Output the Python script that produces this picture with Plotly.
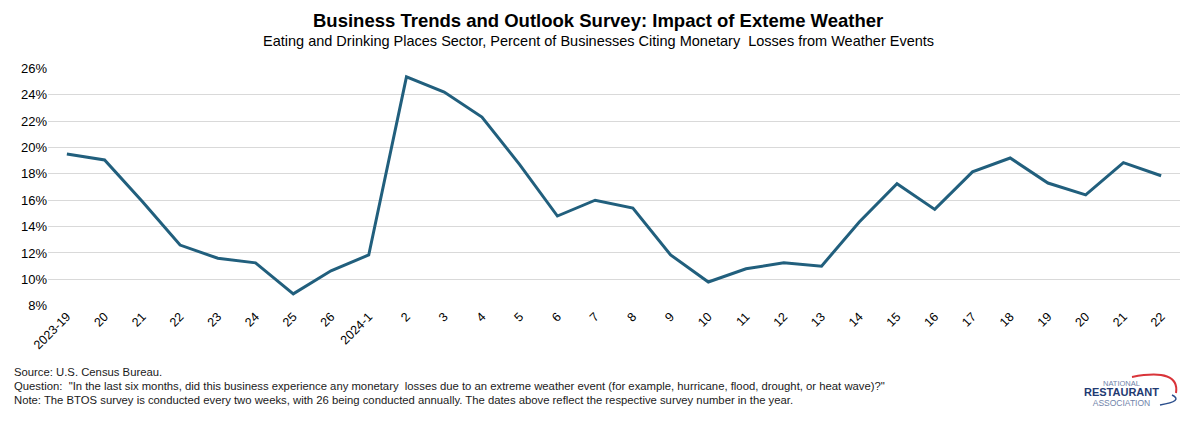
import plotly.graph_objects as go

categories = ["2023-19", "20", "21", "22", "23", "24", "25", "26",
              "2024-1", "2", "3", "4", "5", "6", "7", "8", "9", "10",
              "11", "12", "13", "14", "15", "16", "17", "18", "19", "20", "21", "22"]
values = [19.5, 19.05, 15.9, 12.6, 11.6, 11.25, 8.9, 10.65,
          11.85, 25.35, 24.2, 22.3, 18.7, 14.8, 16.0, 15.4, 11.85, 9.8,
          10.8, 11.25, 11.0, 14.35, 17.25, 15.3, 18.15, 19.2, 17.3, 16.4, 18.85, 17.85]
y_ticks = [8, 10, 12, 14, 16, 18, 20, 22, 24, 26]

title = "<b>Business Trends and Outlook Survey: Impact of Exteme Weather</b>"
subtitle = "Eating and Drinking Places Sector, Percent of Businesses Citing Monetary  Losses from Weather Events"
footer = [
    "Source: U.S. Census Bureau.",
    "Question:  \"In the last six months, did this business experience any monetary  losses due to an extreme weather event (for example, hurricane, flood, drought, or heat wave)?\"",
    "Note: The BTOS survey is conducted every two weeks, with 26 being conducted annually. The dates above reflect the respective survey number in the year.",
]

x_idx = list(range(len(categories)))

# page offset from default body margin
OFF = 8
W, H = 1196 - OFF, 421 - OFF
L, R, T, B = 48 - OFF, 16, 68 - OFF, H - (306 - OFF)

fig = go.Figure()
fig.add_trace(go.Scatter(
    x=x_idx, y=values, mode="lines",
    line=dict(color="#215F7D", width=3),
    hoverinfo="skip", showlegend=False,
))

fig.update_layout(
    width=W, height=H,
    margin=dict(l=L, r=R, t=T, b=B, autoexpand=False),
    paper_bgcolor="white", plot_bgcolor="white",
    font=dict(family="Liberation Sans, Arial, sans-serif", color="#000000", size=12),
    xaxis=dict(
        tickmode="array", tickvals=x_idx, ticktext=categories,
        tickangle=-45, range=[-0.5, len(categories) - 0.5],
        showgrid=False, zeroline=False, showline=False,
        tickfont=dict(size=12.5, color="#000000"), ticks="", automargin=False,
    ),
    yaxis=dict(
        tickmode="array", tickvals=y_ticks, ticktext=[f"{v}%" for v in y_ticks],
        range=[7.98, 26.02], showgrid=True, gridcolor="#D9D9D9", gridwidth=1,
        zeroline=False, showline=False, ticks="", automargin=False,
        tickfont=dict(size=13, color="#000000"),
    ),
)

plot_h = H - T - B
plot_w = W - L - R


def py(pix_y):
    return (H - B - (pix_y - OFF)) / plot_h


def px(pix_x):
    return (pix_x - OFF - L) / plot_w


fig.add_annotation(text=title, xref="paper", yref="paper", x=px(598), y=py(20),
                   xanchor="center", yanchor="middle", showarrow=False,
                   font=dict(size=18.5, color="#000000"))
fig.add_annotation(text=subtitle, xref="paper", yref="paper", x=px(598), y=py(41),
                   xanchor="center", yanchor="middle", showarrow=False,
                   font=dict(size=14.5, color="#000000"))
for i, line in enumerate(footer):
    fig.add_annotation(text=line, xref="paper", yref="paper", x=px(12), y=py(372 + 14 * i),
                       xanchor="left", yanchor="middle", showarrow=False,
                       font=dict(size=11.3, color="#1a1a1a"))

# Logo approximation (single multi-line text)
logo_text = ("NATIONAL<br>"
             "<span style='font-size:11px;color:#1F3A72'><b>RESTAURANT</b></span><br>"
             "<span style='font-size:8.5px'>ASSOCIATION</span>")
fig.add_annotation(text=logo_text, xref="paper", yref="paper", x=px(1121), y=py(393),
                   xanchor="center", yanchor="middle", showarrow=False, align="center",
                   font=dict(size=7.5, color="#7083AA"))
fig.add_shape(type="path", xref="paper", yref="paper",
              path=f"M {px(1132)} {py(377)} Q {px(1180)} {py(368)} {px(1176)} {py(393)}",
              line=dict(color="#D9343A", width=2))
fig.add_shape(type="path", xref="paper", yref="paper",
              path=f"M {px(1160)} {py(405)} Q {px(1184)} {py(401)} {px(1172)} {py(395)}",
              line=dict(color="#2B4E8C", width=1.5))

fig.write_html("out.html")
